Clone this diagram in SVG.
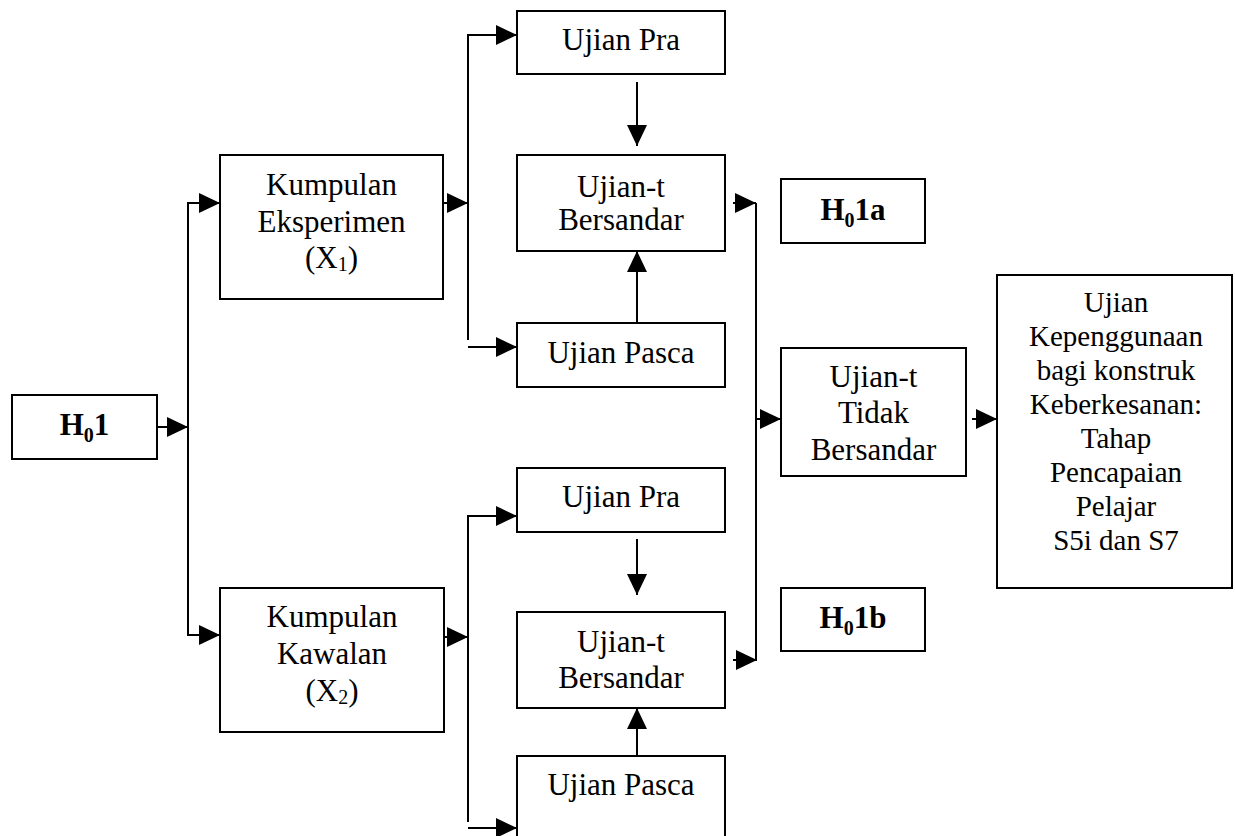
<svg xmlns="http://www.w3.org/2000/svg" width="1235" height="836" viewBox="0 0 1235 836">
<style>
.box{fill:#fff;stroke:#000;stroke-width:2}
.t{font-family:'Liberation Serif','DejaVu Serif',serif;font-size:31px;fill:#000;text-anchor:middle}
.s{font-size:29px}
.b{font-weight:bold;font-size:31px}
.ln{fill:none;stroke:#000;stroke-width:2}
</style>
<defs>
<marker id="ah" markerUnits="userSpaceOnUse" markerWidth="21" markerHeight="20" refX="21" refY="10" orient="auto">
<path d="M0,0 L21,10 L0,20 Z" fill="#000"/>
</marker>
</defs>
<rect x="0" y="0" width="1235" height="836" fill="#fff"/>
<g id="connectors">
<path class="ln" d="M157,427 H188" marker-end="url(#ah)"/>
<path class="ln" d="M188,635 V203 H220" marker-end="url(#ah)"/>
<path class="ln" d="M188,427 V635 H220" marker-end="url(#ah)"/>
<path class="ln" d="M443,203 H468" marker-end="url(#ah)"/>
<path class="ln" d="M468,340 V35 H517" marker-end="url(#ah)"/>
<path class="ln" d="M468,347 H517" marker-end="url(#ah)"/>
<path class="ln" d="M637,82 V146" marker-end="url(#ah)"/>
<path class="ln" d="M637,323 V251" marker-end="url(#ah)"/>
<path class="ln" d="M733,203 H756" marker-end="url(#ah)"/>
<path class="ln" d="M444,637 H468" marker-end="url(#ah)"/>
<path class="ln" d="M468,822 V516 H517" marker-end="url(#ah)"/>
<path class="ln" d="M468,828 H517" marker-end="url(#ah)"/>
<path class="ln" d="M637,539 V595" marker-end="url(#ah)"/>
<path class="ln" d="M637,756 V708" marker-end="url(#ah)"/>
<path class="ln" d="M733,660 H757" marker-end="url(#ah)"/>
<path class="ln" d="M756,203 V660"/>
<path class="ln" d="M756,419 H781" marker-end="url(#ah)"/>
<path class="ln" d="M972,419 H997" marker-end="url(#ah)"/>
</g>
<g id="h01">
<rect class="box" x="12" y="395" width="145" height="64"/>
<text class="t b" x="84.5" y="435">H<tspan font-size="20" dy="7">0</tspan><tspan dy="-7">1</tspan></text>
</g>
<g id="eksperimen">
<rect class="box" x="220" y="155" width="223" height="144"/>
<text class="t" x="331.5" y="195">Kumpulan</text>
<text class="t" x="331.5" y="232">Eksperimen</text>
<text class="t" x="331.5" y="268">(X<tspan font-size="20" dy="3">1</tspan><tspan dy="-3">)</tspan></text>
</g>
<g id="kawalan">
<rect class="box" x="220" y="588" width="224" height="144"/>
<text class="t" x="332" y="627">Kumpulan</text>
<text class="t" x="332" y="664">Kawalan</text>
<text class="t" x="332" y="701">(X<tspan font-size="20" dy="3">2</tspan><tspan dy="-3">)</tspan></text>
</g>
<g id="pra1">
<rect class="box" x="517" y="11" width="208" height="63"/>
<text class="t" x="621" y="50">Ujian Pra</text>
</g>
<g id="bersandar1">
<rect class="box" x="517" y="155" width="208" height="96"/>
<text class="t" x="621" y="197">Ujian-t</text>
<text class="t" x="621" y="230">Bersandar</text>
</g>
<g id="pasca1">
<rect class="box" x="517" y="323" width="208" height="64"/>
<text class="t" x="621" y="363">Ujian Pasca</text>
</g>
<g id="pra2">
<rect class="box" x="517" y="468" width="208" height="64"/>
<text class="t" x="621" y="507">Ujian Pra</text>
</g>
<g id="bersandar2">
<rect class="box" x="517" y="612" width="208" height="96"/>
<text class="t" x="621" y="652">Ujian-t</text>
<text class="t" x="621" y="688">Bersandar</text>
</g>
<g id="pasca2">
<rect class="box" x="517" y="756" width="208" height="90"/>
<text class="t" x="621" y="795">Ujian Pasca</text>
</g>
<g id="h01a">
<rect class="box" x="781" y="179" width="144" height="64"/>
<text class="t b" x="853" y="220">H<tspan font-size="20" dy="7">0</tspan><tspan dy="-7">1a</tspan></text>
</g>
<g id="h01b">
<rect class="box" x="781" y="588" width="144" height="63"/>
<text class="t b" x="853" y="628">H<tspan font-size="20" dy="7">0</tspan><tspan dy="-7">1b</tspan></text>
</g>
<g id="tidakbersandar">
<rect class="box" x="781" y="348" width="185" height="128"/>
<text class="t" x="873.5" y="387">Ujian-t</text>
<text class="t" x="873.5" y="423">Tidak</text>
<text class="t" x="873.5" y="460">Bersandar</text>
</g>
<g id="kepenggunaan">
<rect class="box" x="997" y="275" width="235" height="313"/>
<text class="t s" x="1116" y="312">Ujian</text>
<text class="t s" x="1116" y="346">Kepenggunaan</text>
<text class="t s" x="1116" y="380">bagi konstruk</text>
<text class="t s" x="1116" y="414">Keberkesanan:</text>
<text class="t s" x="1116" y="448">Tahap</text>
<text class="t s" x="1116" y="482">Pencapaian</text>
<text class="t s" x="1116" y="516">Pelajar</text>
<text class="t s" x="1116" y="550">S5i dan S7</text>
</g>
</svg>
